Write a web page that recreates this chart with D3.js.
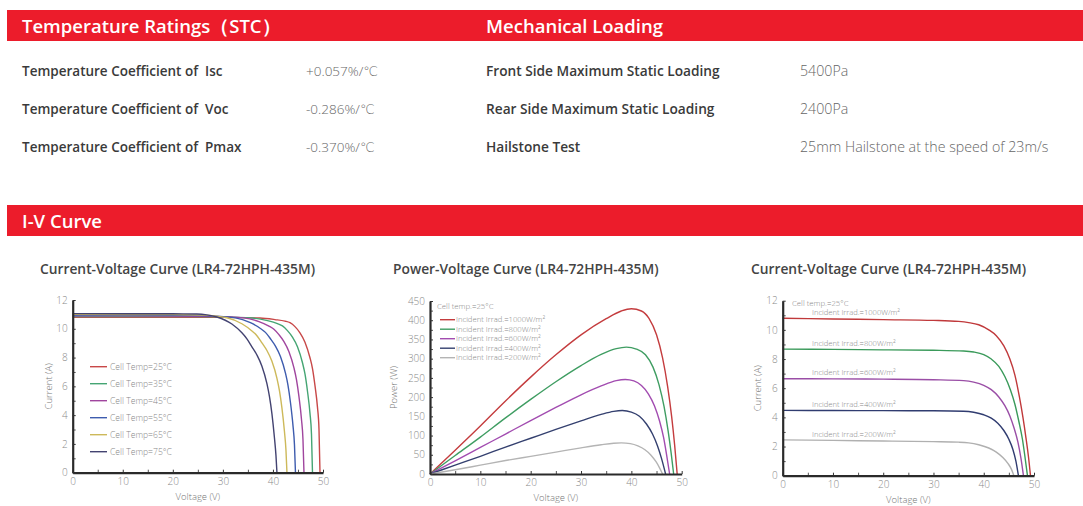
<!DOCTYPE html>
<html><head><meta charset="utf-8">
<script src="https://cdn.jsdelivr.net/npm/d3@7"></script>
<style>
body{margin:0;background:#fff;}
svg text{font-family:"Open Sans","Lato",sans-serif;white-space:pre;}
</style></head><body>
<svg id="c" width="1083" height="506"></svg>
<script>
// ---------- text data ----------
const headerLeft = "Temperature Ratings（STC）";
const headerRight = "Mechanical Loading";
const headerIV = "I-V Curve";
const tempRatingLabels = ["Temperature Coefficient of  Isc", "Temperature Coefficient of  Voc", "Temperature Coefficient of  Pmax"];
const tempRatingNums = ["+0.057%/", "-0.286%/", "-0.370%/"];
const degreeUnit = "℃";
const mechLabels = ["Front Side Maximum Static Loading", "Rear Side Maximum Static Loading", "Hailstone Test"];
const mechValues = ["5400Pa", "2400Pa", "25mm Hailstone at the speed of 23m/s"];
const chartTitles = ["Current-Voltage Curve (LR4-72HPH-435M)", "Power-Voltage Curve (LR4-72HPH-435M)", "Current-Voltage Curve (LR4-72HPH-435M)"];

// ---------- chart 1: I-V at different cell temperatures ----------
const tempNames = ["Cell Temp=25°C", "Cell Temp=35°C", "Cell Temp=45°C", "Cell Temp=55°C", "Cell Temp=65°C", "Cell Temp=75°C"];
const ivT25 = [[0,10.8],[20,10.8],[30,10.79],[37.4,10.75],[40.4,10.64],[42.4,10.53],[43.4,10.42],[44.4,10.15],[45.4,9.72],[46.4,9.07],[47.4,7.99],[47.9,7.24],[48.4,6.05],[48.9,4.54],[49.2,3.02],[49.4,0]];
const ivT35 = [[0,10.85],[20,10.85],[30,10.83],[35.9,10.75],[38.9,10.57],[40.9,10.36],[41.9,10.2],[42.9,9.87],[43.9,9.42],[44.9,8.75],[45.9,7.64],[46.4,6.86],[46.9,5.66],[47.4,4.12],[47.7,2.67],[47.9,0]];
const ivT45 = [[0,10.9],[20,10.89],[28,10.86],[34.2,10.76],[37.2,10.5],[39.2,10.19],[40.2,9.97],[41.2,9.59],[42.2,9.11],[43.2,8.41],[44.2,7.28],[44.7,6.47],[45.2,5.28],[45.7,3.71],[46.0,2.31],[46.2,0]];
const ivT55 = [[0,10.95],[20,10.94],[27,10.9],[32.5,10.76],[35.5,10.42],[37.5,10.02],[38.5,9.75],[39.5,9.31],[40.5,8.8],[41.5,8.08],[42.5,6.92],[43.0,6.09],[43.5,4.88],[44.0,3.29],[44.3,1.95],[44.5,0]];
const ivT65 = [[0,11.0],[20,10.99],[26,10.95],[30.8,10.77],[33.8,10.35],[35.8,9.85],[36.8,9.52],[37.8,9.02],[38.8,8.49],[39.8,7.74],[40.8,6.56],[41.3,5.7],[41.8,4.49],[42.3,2.86],[42.6,1.58],[42.8,0]];
const ivT75 = [[0,11.05],[20,11.04],[24.8,11.03],[26.8,10.97],[28.8,10.82],[31.8,10.33],[33.8,9.72],[34.8,9.3],[35.8,8.75],[36.8,8.18],[37.8,7.4],[38.8,6.19],[39.3,5.3],[39.8,4.09],[40.3,2.43],[40.6,1.22],[40.8,0]];
const tempColors = ["#c84848", "#45a573", "#a0459e", "#3e5cae", "#cdb95a", "#434371"];

// ---------- chart 2 & 3: irradiance ----------
const irradNames = ["Incident Irrad.=1000W/m²", "Incident Irrad.=800W/m²", "Incident Irrad.=600W/m²", "Incident Irrad.=400W/m²", "Incident Irrad.=200W/m²"];
const cellTempNote = "Cell temp.=25°C";
const pv1000 = [[0,0],[5,62],[10,125],[15,190],[20,252],[25,310],[30,362],[35,404],[38,424],[40,430],[42,424],[43.5,405],[45,362],[46.2,302],[47.2,228],[48,150],[48.6,75],[49.1,0]];
const pv800 = [[0,0],[5,48],[10,96],[15,146],[20,194],[25,240],[30,282],[34,311],[37,326],[39,330],[41,325],[42.8,310],[44.3,278],[45.5,232],[46.5,175],[47.3,112],[47.9,55],[48.4,0]];
const pv600 = [[0,0],[5,34],[10,69],[15,104],[20,139],[25,173],[30,206],[34,229],[37,243],[38.8,246],[40.5,242],[42,230],[43.4,208],[44.6,177],[45.6,138],[46.4,95],[47,50],[47.6,0]];
const pv400 = [[0,0],[5,23],[10,46],[15,70],[20,93],[25,116],[30,138],[34,155],[36.5,163],[38.2,165],[40,161],[41.6,150],[43,130],[44.2,104],[45.2,73],[46,40],[46.8,0]];
const pv200 = [[0,0],[5,11],[10,23],[15,35],[20,46],[25,57],[30,68],[34,76],[36.5,80],[38,81],[39.8,79],[41.3,73],[42.7,63],[43.9,49],[44.9,32],[45.6,16],[46.2,0]];
const iv1000 = [[0,10.8],[10,10.75],[20,10.7],[30,10.65],[35,10.58],[37,10.5],[39,10.35],[41,10.0],[42.5,9.6],[44,8.9],[45.2,8.0],[46.2,6.9],[47.1,5.4],[47.8,4.0],[48.4,2.6],[48.9,1.3],[49.3,0]];
const iv800 = [[0,8.68],[10,8.66],[20,8.63],[30,8.6],[36,8.55],[38,8.48],[40,8.3],[41.5,8.0],[43,7.5],[44.2,6.8],[45.3,5.9],[46.2,4.9],[47,3.7],[47.7,2.5],[48.2,1.3],[48.7,0]];
const iv600 = [[0,6.65],[10,6.64],[20,6.62],[30,6.58],[36,6.52],[38,6.42],[40,6.2],[41.5,5.9],[43,5.4],[44.2,4.8],[45.2,4.1],[46,3.3],[46.8,2.3],[47.4,1.2],[47.9,0]];
const iv400 = [[0,4.48],[10,4.47],[20,4.46],[30,4.45],[36,4.42],[38,4.35],[40,4.18],[41.5,3.95],[42.8,3.6],[44,3.1],[45,2.5],[45.8,1.8],[46.4,1.0],[46.9,0]];
const iv200 = [[0,2.46],[10,2.42],[20,2.38],[30,2.34],[35,2.3],[37,2.25],[39,2.12],[41,1.9],[42.5,1.62],[43.8,1.25],[44.8,0.85],[45.5,0.45],[46.0,0]];
const irradColorsPV = ["#c43c3e", "#3f9d62", "#a24cb0", "#34406f", "#b4b4b4"];
const irradColorsIV = ["#c0393b", "#3a9a5a", "#9a4ea6", "#303c70", "#b0b0b0"];

const voltTicks = [0,10,20,30,40,50];
const currentTicks = [0,2,4,6,8,10,12];
const powerTicks = [0,50,100,150,200,250,300,350,400,450];

// ---------- drawing ----------
const svg = d3.select("#c");
const RED = "#ec1c2b";

function bar(y, h) {
  svg.append("rect").attr("x", 7).attr("y", y).attr("width", 1076).attr("height", h).attr("fill", RED);
}
bar(10, 31);
bar(205, 31);
svg.append("text").attr("x", 22).attr("y", 33).attr("fill", "#fff").attr("font-size", 18.5).attr("font-weight", 600).text(headerLeft);
svg.append("text").attr("x", 486).attr("y", 33).attr("fill", "#fff").attr("font-size", 18.5).attr("font-weight", 600).text(headerRight);
svg.append("text").attr("x", 22).attr("y", 228).attr("fill", "#fff").attr("font-size", 18.5).attr("font-weight", 600).text(headerIV);

const rowY = [76, 114, 152];
tempRatingLabels.forEach((t, i) => {
  svg.append("text").attr("x", 22).attr("y", rowY[i]).attr("fill", "#3a3a3a").attr("font-size", 13.5).attr("font-weight", 600).text(t);
  const v = svg.append("text").attr("x", 306).attr("y", rowY[i]).attr("fill", "#666").attr("font-size", 13.5).attr("font-weight", 300);
  v.append("tspan").text(tempRatingNums[i]);
  v.append("tspan").attr("font-family", "DejaVu Sans").attr("font-weight", 200).attr("font-size", 13).text(degreeUnit);
});
mechLabels.forEach((t, i) => {
  svg.append("text").attr("x", 486).attr("y", rowY[i]).attr("fill", "#3a3a3a").attr("font-size", 13.7).attr("font-weight", 600).text(t);
  svg.append("text").attr("x", 800).attr("y", rowY[i]).attr("fill", "#666").attr("font-size", 14.2).attr("font-weight", 300).text(mechValues[i]);
});

const titleX = [40, 393, 751];
chartTitles.forEach((t, i) => {
  svg.append("text").attr("x", titleX[i]).attr("y", 274).attr("fill", "#444").attr("font-size", 13.8).attr("font-weight", 600).text(t);
});

function chart(cfg) {
  const x = d3.scaleLinear().domain([0, 50]).range([cfg.x0, cfg.x1]);
  const y = d3.scaleLinear().domain([0, cfg.ymax]).range([cfg.y0, cfg.y1]);
  const g = svg.append("g");
  const xm = d3.axisBottom(x).tickValues(d3.range(5, 50, 10)).tickSize(-3).tickFormat("").tickSizeOuter(0);
  const ym = d3.axisLeft(y).tickValues(cfg.yMinor).tickSize(-3).tickFormat("").tickSizeOuter(0);
  g.append("g").attr("transform", `translate(0,${cfg.y0})`).call(xm).call(a => a.select(".domain").remove()).selectAll("line").attr("stroke", "#555");
  g.append("g").attr("transform", `translate(${cfg.x0},0)`).call(ym).call(a => a.select(".domain").remove()).selectAll("line").attr("stroke", "#555");
  const line = d3.line().x(d => x(d[0])).y(d => y(d[1])).curve(d3.curveMonotoneX);
  cfg.series.forEach((s, i) => {
    g.append("path").attr("d", line(s)).attr("fill", "none").attr("stroke", cfg.colors[i]).attr("stroke-width", 1.4);
  });
  const xa = d3.axisBottom(x).tickValues(voltTicks).tickSize(-3).tickPadding(5).tickSizeOuter(0);
  const ya = d3.axisLeft(y).tickValues(cfg.yTicks).tickSize(-3).tickPadding(5).tickSizeOuter(0);
  const gx = g.append("g").attr("transform", `translate(0,${cfg.y0})`).call(xa);
  const gy = g.append("g").attr("transform", `translate(${cfg.x0},0)`).call(ya);
  [gx, gy].forEach(a => {
    a.select(".domain").attr("stroke", "#2a2a2a").attr("stroke-width", 2.2);
    a.selectAll("line").attr("stroke", "#333");
    a.selectAll("text").attr("fill", "#8a8a8a").attr("font-size", 10).attr("font-family", "Open Sans, sans-serif").attr("font-weight", 300);
  });
  g.append("text").attr("x", (cfg.x0 + cfg.x1) / 2).attr("y", cfg.y0 + 27).attr("text-anchor", "middle")
    .attr("fill", "#777").attr("font-size", 9.5).attr("font-weight", 300).text("Voltage (V)");
  g.append("text").attr("transform", `translate(${cfg.yLabelX},${(cfg.y0 + cfg.y1) / 2}) rotate(-90)`).attr("text-anchor", "middle")
    .attr("fill", "#777").attr("font-size", 9.5).attr("font-weight", 300).text(cfg.yLabel);
  return {x, y, g};
}

// chart 1
const c1 = chart({x0: 72.7, x1: 323, y0: 472.7, y1: 300, ymax: 12, yTicks: currentTicks, yMinor: d3.range(1, 12, 2),
  series: [ivT25, ivT35, ivT45, ivT55, ivT65, ivT75], colors: tempColors, yLabel: "Current (A)", yLabelX: 52});
tempNames.forEach((t, i) => {
  const yy = 366.7 + i * 17;
  c1.g.append("line").attr("x1", 90).attr("x2", 107).attr("y1", yy).attr("y2", yy).attr("stroke", tempColors[i]).attr("stroke-width", 1.4);
  c1.g.append("text").attr("x", 110).attr("y", yy + 3).attr("fill", "#888").attr("font-size", 8.6).attr("font-weight", 300).text(t);
});

// chart 2
const c2 = chart({x0: 430, x1: 681.7, y0: 474, y1: 301, ymax: 450, yTicks: powerTicks, yMinor: d3.range(25, 450, 50),
  series: [pv1000, pv800, pv600, pv400, pv200], colors: irradColorsPV, yLabel: "Power (W)", yLabelX: 397});
c2.g.append("text").attr("x", 437).attr("y", 309).attr("fill", "#888").attr("font-size", 7.8).attr("font-weight", 300).text(cellTempNote);
irradNames.forEach((t, i) => {
  const yy = 319.7 + i * 9.5;
  c2.g.append("line").attr("x1", 440).attr("x2", 455).attr("y1", yy).attr("y2", yy).attr("stroke", irradColorsPV[i]).attr("stroke-width", 1.4);
  c2.g.append("text").attr("x", 456).attr("y", yy + 2.7).attr("fill", "#888").attr("font-size", 7.7).attr("font-weight", 300).text(t);
});

// chart 3
const c3 = chart({x0: 782.7, x1: 1034, y0: 475.7, y1: 300.7, ymax: 12, yTicks: currentTicks, yMinor: d3.range(1, 12, 2),
  series: [iv1000, iv800, iv600, iv400, iv200], colors: irradColorsIV, yLabel: "Current (A)", yLabelX: 761});
c3.g.append("text").attr("x", 792).attr("y", 306).attr("fill", "#888").attr("font-size", 7.8).attr("font-weight", 300).text(cellTempNote);
const ivIrrad = [iv1000, iv800, iv600, iv400, iv200];
irradNames.forEach((t, i) => {
  c3.g.append("text").attr("x", 812).attr("y", c3.y(ivIrrad[i][1][1]) - 3.5).attr("fill", "#888").attr("font-size", 7.6).attr("font-weight", 300).text(t);
});
</script>
</body></html>
